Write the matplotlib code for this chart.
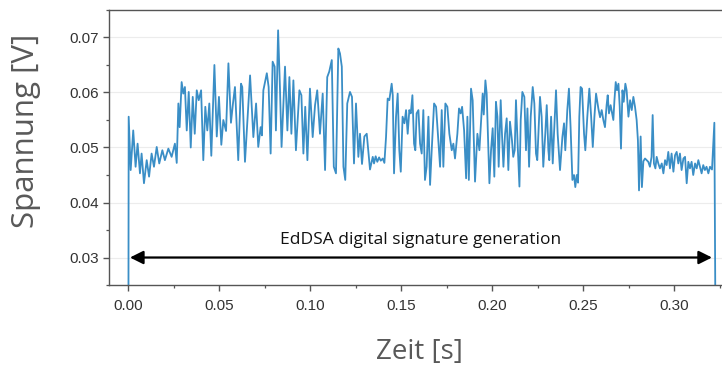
import numpy as np
import matplotlib
matplotlib.use('Agg')
import matplotlib.pyplot as plt
from matplotlib.ticker import MultipleLocator

"Messwerte (abgelesen): Zeit [s] und Spannung [V]"
zeit = [0.0000, 0.0002, 0.0013, 0.0027, 0.0040, 0.0051, 0.0064, 0.0073, 0.0086, 0.0101,
        0.0114, 0.0128, 0.0141, 0.0156, 0.0170, 0.0187, 0.0201, 0.0220, 0.0238, 0.0256,
        0.0266, 0.0275, 0.0282, 0.0293, 0.0302, 0.0311, 0.0321, 0.0332, 0.0343, 0.0354,
        0.0365, 0.0376, 0.0387, 0.0400, 0.0412, 0.0423, 0.0434, 0.0445, 0.0456, 0.0473,
        0.0486, 0.0498, 0.0511, 0.0522, 0.0537, 0.0550, 0.0564, 0.0575, 0.0586, 0.0604,
        0.0619, 0.0626, 0.0641, 0.0669, 0.0687, 0.0702, 0.0714, 0.0727, 0.0734, 0.0742,
        0.0761, 0.0771, 0.0782, 0.0793, 0.0804, 0.0811, 0.0823, 0.0833, 0.0842, 0.0861,
        0.0874, 0.0885, 0.0896, 0.0907, 0.0921, 0.0940, 0.0951, 0.0962, 0.0972, 0.0984,
        0.0998, 0.1013, 0.1026, 0.1038, 0.1053, 0.1068, 0.1081, 0.1093, 0.1104, 0.1118,
        0.1129, 0.1141, 0.1154, 0.1163, 0.1173, 0.1182, 0.1192, 0.1203, 0.1218, 0.1229,
        0.1240, 0.1251, 0.1264, 0.1273, 0.1284, 0.1297, 0.1310, 0.1328, 0.1343, 0.1350,
        0.1359, 0.1368, 0.1378, 0.1387, 0.1398, 0.1407, 0.1416, 0.1425, 0.1434, 0.1447,
        0.1453, 0.1460, 0.1471, 0.1480, 0.1489, 0.1497, 0.1507, 0.1517, 0.1526, 0.1535,
        0.1544, 0.1552, 0.1561, 0.1570, 0.1577, 0.1584, 0.1594, 0.1603, 0.1612, 0.1621,
        0.1630, 0.1639, 0.1649, 0.1658, 0.1667, 0.1680, 0.1691, 0.1703, 0.1713, 0.1722,
        0.1731, 0.1742, 0.1753, 0.1764, 0.1777, 0.1786, 0.1795, 0.1808, 0.1817, 0.1826,
        0.1834, 0.1845, 0.1856, 0.1863, 0.1871, 0.1883, 0.1892, 0.1905, 0.1918, 0.1929,
        0.1947, 0.1953, 0.1962, 0.1969, 0.1984, 0.1993, 0.2002, 0.2011, 0.2020, 0.2028,
        0.2035, 0.2046, 0.2053, 0.2061, 0.2070, 0.2079, 0.2088, 0.2097, 0.2108, 0.2115,
        0.2123, 0.2130, 0.2139, 0.2149, 0.2156, 0.2165, 0.2176, 0.2185, 0.2193, 0.2202,
        0.2211, 0.2222, 0.2231, 0.2240, 0.2247, 0.2262, 0.2271, 0.2280, 0.2291, 0.2299,
        0.2308, 0.2313, 0.2323, 0.2332, 0.2339, 0.2350, 0.2359, 0.2372, 0.2385, 0.2394,
        0.2401, 0.2412, 0.2421, 0.2430, 0.2440, 0.2449, 0.2456, 0.2464, 0.2471, 0.2478,
        0.2485, 0.2493, 0.2504, 0.2511, 0.2522, 0.2533, 0.2543, 0.2552, 0.2561, 0.2570,
        0.2583, 0.2592, 0.2601, 0.2610, 0.2619, 0.2628, 0.2634, 0.2641, 0.2650, 0.2665,
        0.2671, 0.2678, 0.2685, 0.2693, 0.2700, 0.2707, 0.2715, 0.2722, 0.2731, 0.2738,
        0.2748, 0.2757, 0.2766, 0.2775, 0.2784, 0.2793, 0.2800, 0.2806, 0.2815, 0.2822,
        0.2830, 0.2839, 0.2848, 0.2857, 0.2866, 0.2875, 0.2881, 0.2888, 0.2896, 0.2903,
        0.2912, 0.2921, 0.2931, 0.2940, 0.2949, 0.2958, 0.2967, 0.2976, 0.2985, 0.2995,
        0.3004, 0.3013, 0.3022, 0.3031, 0.3040, 0.3050, 0.3059, 0.3068, 0.3077, 0.3086,
        0.3095, 0.3104, 0.3114, 0.3123, 0.3132, 0.3141, 0.3150, 0.3159, 0.3168, 0.3177,
        0.3187, 0.3196, 0.3207, 0.3220, 0.3229]

spannung = [0.0000, 0.0556, 0.0459, 0.0531, 0.0465, 0.0507, 0.0453, 0.0489, 0.0435, 0.0477,
            0.0447, 0.0489, 0.0465, 0.0501, 0.0471, 0.0495, 0.0477, 0.0498, 0.0483, 0.0507,
            0.0472, 0.0580, 0.0537, 0.0619, 0.0598, 0.0610, 0.0531, 0.0601, 0.0500, 0.0592,
            0.0525, 0.0604, 0.0586, 0.0604, 0.0477, 0.0574, 0.0531, 0.0580, 0.0485, 0.0650,
            0.0520, 0.0592, 0.0505, 0.0550, 0.0530, 0.0653, 0.0545, 0.0580, 0.0610, 0.0477,
            0.0616, 0.0610, 0.0474, 0.0631, 0.0519, 0.0580, 0.0501, 0.0537, 0.0522, 0.0604,
            0.0635, 0.0610, 0.0489, 0.0656, 0.0647, 0.0531, 0.0713, 0.0610, 0.0501, 0.0647,
            0.0531, 0.0628, 0.0525, 0.0622, 0.0495, 0.0604, 0.0595, 0.0489, 0.0574, 0.0477,
            0.0607, 0.0519, 0.0577, 0.0604, 0.0525, 0.0598, 0.0459, 0.0628, 0.0638, 0.0659,
            0.0465, 0.0453, 0.0680, 0.0671, 0.0647, 0.0465, 0.0441, 0.0580, 0.0601, 0.0592,
            0.0471, 0.0580, 0.0483, 0.0525, 0.0470, 0.0520, 0.0525, 0.0460, 0.0483, 0.0471,
            0.0484, 0.0474, 0.0482, 0.0476, 0.0480, 0.0472, 0.0519, 0.0589, 0.0586, 0.0616,
            0.0595, 0.0453, 0.0556, 0.0598, 0.0495, 0.0456, 0.0556, 0.0544, 0.0568, 0.0525,
            0.0568, 0.0562, 0.0595, 0.0507, 0.0495, 0.0562, 0.0568, 0.0507, 0.0489, 0.0568,
            0.0441, 0.0465, 0.0556, 0.0432, 0.0495, 0.0580, 0.0574, 0.0513, 0.0465, 0.0568,
            0.0465, 0.0580, 0.0574, 0.0525, 0.0495, 0.0507, 0.0480, 0.0525, 0.0571, 0.0562,
            0.0574, 0.0531, 0.0444, 0.0556, 0.0441, 0.0607, 0.0586, 0.0438, 0.0525, 0.0495,
            0.0598, 0.0560, 0.0622, 0.0598, 0.0435, 0.0495, 0.0535, 0.0447, 0.0583, 0.0556,
            0.0465, 0.0586, 0.0525, 0.0465, 0.0525, 0.0553, 0.0459, 0.0547, 0.0513, 0.0483,
            0.0495, 0.0586, 0.0507, 0.0429, 0.0550, 0.0601, 0.0592, 0.0495, 0.0571, 0.0465,
            0.0556, 0.0610, 0.0580, 0.0489, 0.0477, 0.0592, 0.0556, 0.0465, 0.0525, 0.0577,
            0.0495, 0.0477, 0.0556, 0.0471, 0.0525, 0.0604, 0.0525, 0.0459, 0.0519, 0.0544,
            0.0495, 0.0568, 0.0607, 0.0537, 0.0441, 0.0450, 0.0428, 0.0450, 0.0436, 0.0556,
            0.0610, 0.0607, 0.0525, 0.0495, 0.0556, 0.0607, 0.0556, 0.0501, 0.0556, 0.0598,
            0.0570, 0.0555, 0.0568, 0.0550, 0.0537, 0.0577, 0.0595, 0.0562, 0.0577, 0.0550,
            0.0586, 0.0619, 0.0604, 0.0616, 0.0574, 0.0498, 0.0604, 0.0583, 0.0616, 0.0604,
            0.0556, 0.0586, 0.0568, 0.0592, 0.0574, 0.0550, 0.0513, 0.0422, 0.0520, 0.0428,
            0.0475, 0.0480, 0.0477, 0.0474, 0.0465, 0.0483, 0.0559, 0.0471, 0.0462, 0.0483,
            0.0471, 0.0462, 0.0471, 0.0453, 0.0477, 0.0468, 0.0492, 0.0462, 0.0489, 0.0456,
            0.0486, 0.0492, 0.0471, 0.0489, 0.0459, 0.0480, 0.0483, 0.0435, 0.0474, 0.0462,
            0.0474, 0.0450, 0.0471, 0.0462, 0.0477, 0.0465, 0.0453, 0.0468, 0.0459, 0.0465,
            0.0453, 0.0465, 0.0460, 0.0545, 0.0000]

"Beschriftungen"
x_ticks = [0.00, 0.05, 0.10, 0.15, 0.20, 0.25, 0.30]
y_ticks = [0.03, 0.04, 0.05, 0.06, 0.07]
pfeil_start = 0.0009
pfeil_ende = 0.3207
pfeil_hoehe = 0.03
pfeil_text = 'EdDSA digital signature generation'

fig = plt.figure(figsize=(7.22, 3.67), dpi=100)
ax = fig.add_axes([0.151, 0.2234, 0.849, 0.7494])

ax.plot(zeit, spannung, color='#3a8ec6', lw=1.3)

ax.set_xlim(-0.0106, 0.3262)
ax.set_ylim(0.025, 0.075)
ax.set_xticks(x_ticks)
ax.set_yticks(y_ticks)
ax.set_xticklabels(['%.2f' % x for x in x_ticks])
ax.set_yticklabels(['%.2f' % y for y in y_ticks])
ax.xaxis.set_minor_locator(MultipleLocator(0.025))
ax.yaxis.set_minor_locator(MultipleLocator(0.005))

ax.grid(axis='y', which='major', color='#ececec', lw=0.8)
ax.set_axisbelow(True)

for s in ['top', 'left', 'bottom']:
    ax.spines[s].set_color('#555555')
    ax.spines[s].set_linewidth(1.0)
ax.spines['right'].set_visible(False)

ax.tick_params(which='major', direction='out', length=4.5, width=1.0, color='#555555',
               labelsize=11, labelcolor='#333333', pad=2.5)
ax.tick_params(which='minor', direction='out', length=2.2, width=0.9, color='#555555')
for lab in ax.get_xticklabels() + ax.get_yticklabels():
    lab.set_family('Liberation Sans')
ax.tick_params(axis='x', pad=5.5)

"Pfeil mit Text"
ax.annotate('', xy=(pfeil_start, pfeil_hoehe), xytext=(pfeil_ende, pfeil_hoehe),
            arrowprops=dict(arrowstyle='<|-|>', color='black', lw=1.6,
                            mutation_scale=20, shrinkA=0, shrinkB=0))
ax.text(0.1605, 0.0331, pfeil_text, ha='center', va='center', fontsize=12.5,
        family='Open Sans', color='#111111')

ax.set_xlabel('Zeit [s]', fontsize=20, family='Open Sans', color='#595959', va='center')
ax.xaxis.set_label_coords(0.507, -0.2436)
ax.set_ylabel('Spannung [V]', fontsize=22.5, family='Open Sans', color='#595959', va='center')
ax.yaxis.set_label_coords(-0.135, 0.56)

plt.savefig('out.png', dpi=100)
